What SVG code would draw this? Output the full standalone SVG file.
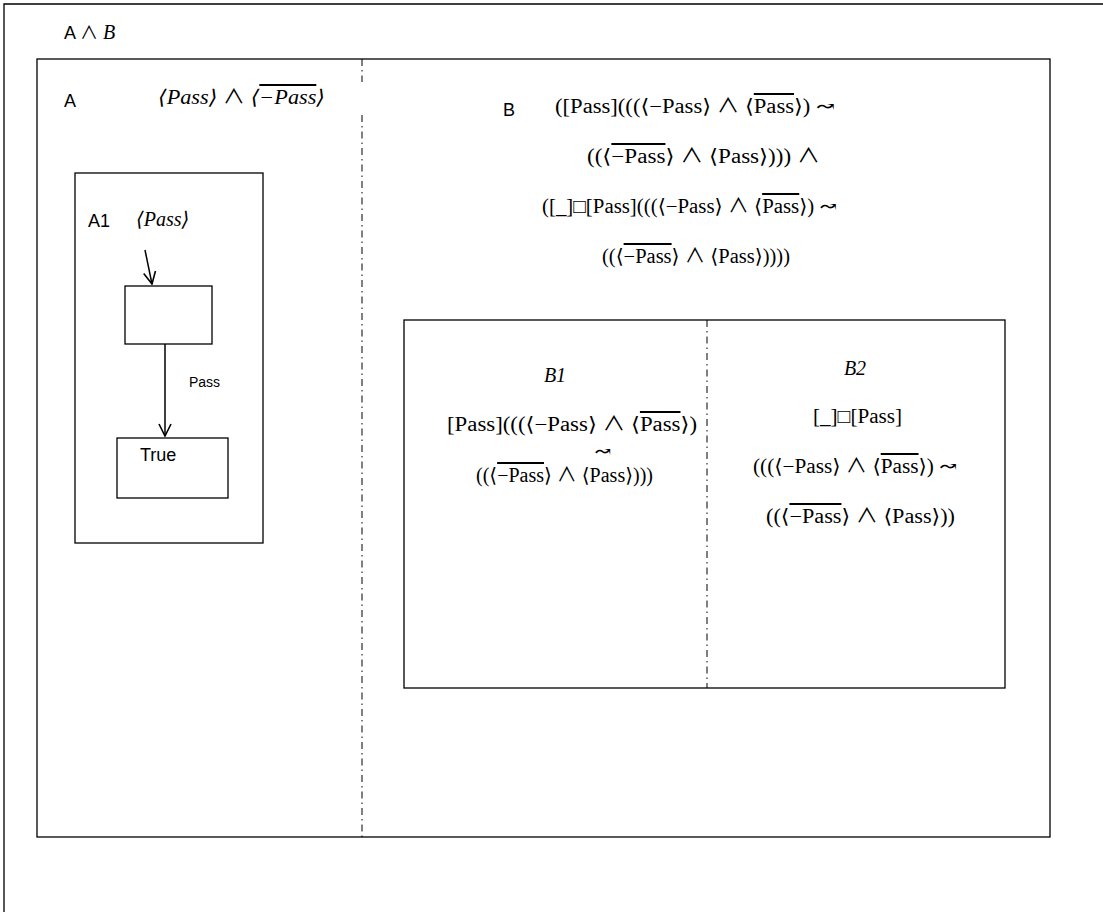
<svg xmlns="http://www.w3.org/2000/svg" width="1103" height="912" viewBox="0 0 1103 912">
<style>
.frame{fill:none;stroke:#000;stroke-width:1.3}
.dash{fill:none;stroke:#000;stroke-width:1;stroke-dasharray:7 4 1.5 4}
.sans{font-family:"Liberation Sans","Open Sans",Arial,sans-serif;fill:#000}
.math{font-family:"Liberation Serif","DejaVu Serif",serif;font-size:20px;fill:#000}
.mi{font-family:"Liberation Serif","DejaVu Serif",serif;font-style:italic;font-size:20px;fill:#000}
.ol{text-decoration:overline}
.and{font-family:"Noto Sans CJK JP","DejaVu Sans",sans-serif;font-weight:normal;font-style:normal}
.edge{fill:none;stroke:#000;stroke-width:1.5}
</style>
<defs>
<marker id="arr" viewBox="0 0 14 14" refX="13" refY="7" markerWidth="14" markerHeight="14" markerUnits="userSpaceOnUse" orient="auto">
<path d="M1,1 L13,7 L1,13" fill="none" stroke="#000" stroke-width="1.6"/>
</marker>
</defs>
<rect width="1103" height="912" fill="#fff"/>
<g id="outer">
<path class="frame" d="M4,912 V4 H1103"/>
<text class="sans" x="64" y="39" font-size="18">A <tspan class="and">∧</tspan> <tspan class="mi" font-size="21">B</tspan></text>
</g>
<g id="main">
<rect class="frame" x="37" y="59" width="1013" height="778"/>
<line class="dash" x1="362" y1="59" x2="362" y2="82"/>
<line class="dash" x1="362" y1="115" x2="362" y2="837"/>
</g>
<g id="A">
<text class="sans" x="64" y="107" font-size="18">A</text>
<text class="mi" x="158" y="104" textLength="167" lengthAdjust="spacingAndGlyphs">⟨Pass⟩ <tspan class="and">∧</tspan> ⟨<tspan class="ol">−Pass</tspan>⟩</text>
</g>
<g id="A1">
<rect class="frame" x="75" y="173" width="188" height="370"/>
<text class="sans" x="88" y="227" font-size="18">A1</text>
<text class="mi" x="136" y="226">⟨Pass⟩</text>
</g>
<g id="state">
<rect class="frame" x="125" y="286" width="87" height="58"/>
</g>
<g id="True">
<rect class="frame" x="117" y="438" width="111" height="60"/>
<text class="sans" x="140" y="461" font-size="18">True</text>
</g>
<g id="connectors">
<line class="edge" x1="145" y1="250" x2="152" y2="284" marker-end="url(#arr)"/>
<line class="edge" x1="165" y1="344" x2="165" y2="436" marker-end="url(#arr)"/>
<text class="sans" x="189" y="387" font-size="14">Pass</text>
</g>
<g id="B">
<text class="sans" x="503" y="116" font-size="18">B</text>
<text class="math" x="555" y="113" textLength="280" lengthAdjust="spacingAndGlyphs">([Pass](((⟨−Pass⟩ <tspan class="and">∧</tspan> ⟨<tspan class="ol">Pass</tspan>⟩) ↝</text>
<text class="math" x="587" y="163" textLength="233" lengthAdjust="spacingAndGlyphs">((⟨<tspan class="ol">−Pass</tspan>⟩ <tspan class="and">∧</tspan> ⟨Pass⟩)))  <tspan class="and">∧</tspan></text>
<text class="math" x="542" y="213" textLength="295" lengthAdjust="spacingAndGlyphs">([_]□[Pass](((⟨−Pass⟩ <tspan class="and">∧</tspan> ⟨<tspan class="ol">Pass</tspan>⟩) ↝</text>
<text class="math" x="602" y="263" textLength="188" lengthAdjust="spacingAndGlyphs">((⟨<tspan class="ol">−Pass</tspan>⟩ <tspan class="and">∧</tspan> ⟨Pass⟩))))</text>
</g>
<g id="Bbox">
<rect class="frame" x="404" y="320" width="601" height="368"/>
<line class="dash" x1="707" y1="320" x2="707" y2="688"/>
</g>
<g id="B1">
<text class="mi" x="555" y="382" text-anchor="middle">B1</text>
<text class="math" x="447" y="431" textLength="250" lengthAdjust="spacingAndGlyphs">[Pass](((⟨−Pass⟩ <tspan class="and">∧</tspan> ⟨<tspan class="ol">Pass</tspan>⟩)</text>
<text class="math" x="603" y="458" text-anchor="middle">↝</text>
<text class="math" x="476" y="482" textLength="177" lengthAdjust="spacingAndGlyphs">((⟨<tspan class="ol">−Pass</tspan>⟩ <tspan class="and">∧</tspan> ⟨Pass⟩)))</text>
</g>
<g id="B2">
<text class="mi" x="855" y="375" text-anchor="middle">B2</text>
<text class="math" x="813" y="423" textLength="89" lengthAdjust="spacingAndGlyphs">[_]□[Pass]</text>
<text class="math" x="753" y="473" textLength="204" lengthAdjust="spacingAndGlyphs">(((⟨−Pass⟩ <tspan class="and">∧</tspan> ⟨<tspan class="ol">Pass</tspan>⟩) ↝</text>
<text class="math" x="766" y="523" textLength="189" lengthAdjust="spacingAndGlyphs">((⟨<tspan class="ol">−Pass</tspan>⟩ <tspan class="and">∧</tspan> ⟨Pass⟩))</text>
</g>
</svg>
